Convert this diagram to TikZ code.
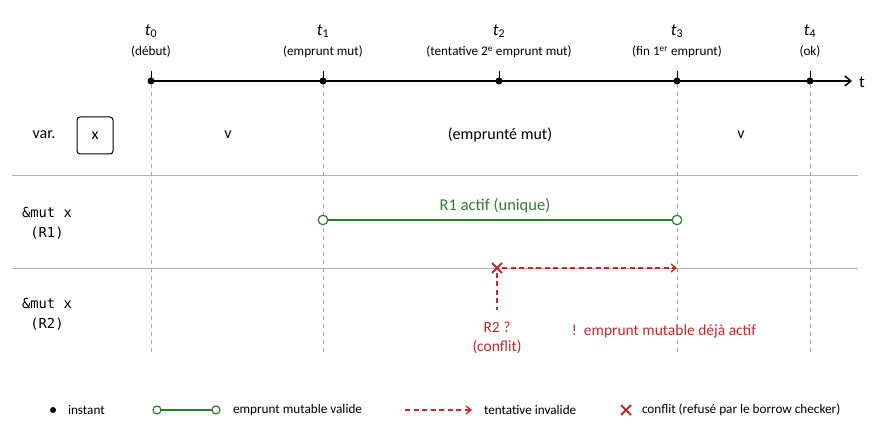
\documentclass[tikz,border=0pt]{standalone}
\usepackage{fontspec}
\setmainfont{Carlito}
\newfontfamily\codefont{DejaVu Sans Mono}
\usetikzlibrary{arrows.meta,shapes.misc}
\definecolor{okgreen}{HTML}{2E7D32}
\definecolor{badred}{HTML}{C62828}
\begin{document}
\begin{tikzpicture}[x=1pt,y=-1pt,
  every node/.style={inner sep=0pt,outer sep=0pt},
  instdot/.style={circle,fill=black,minimum size=7pt},
  opencirc/.style={circle,draw=okgreen,fill=white,line width=1.2pt,minimum size=9.5pt},
  guide/.style={gray!70,line width=0.6pt,dash pattern=on 4pt off 4pt},
  sepline/.style={gray!60,line width=0.7pt},
  tlab/.style={font=\fontsize{17}{17}\selectfont},
  captxt/.style={font=\fontsize{13.2}{13.2}\selectfont},
  rowlab/.style={font=\fontsize{16}{16}\selectfont},
  codelab/.style={font=\codefont\fontsize{13.8}{20}\selectfont,align=center},
  greenline/.style={okgreen,line width=1.4pt},
  redarrow/.style={badred,line width=1.3pt,dash pattern=on 5pt off 3.5pt,-{Straight Barb[length=5pt,width=8pt]}},
  redcross/.style={cross out,draw=badred,line width=1.8pt,minimum size=10pt},
  redtxt/.style={badred,font=\fontsize{15.5}{19}\selectfont}]
\useasboundingbox (0,0) rectangle (887,443);
% timeline
\coordinate (tstart) at (151,81);
\coordinate (tend) at (852,81);
\draw[line width=1.5pt,-{Straight Barb[length=6pt,width=10pt]}] (tstart) -- (tend);
\node[font=\fontsize{17}{17}\selectfont] (tlbl) at (862,82) {t};
\foreach \n/\x/\c in {0/151/(début),1/323/(emprunt mut),3/677/(fin 1\textsuperscript{er} emprunt),4/810/(ok)}{
  \node[instdot] (d\n) at (\x,81) {};
  \node[tlab] (tl\n) at (\x,31) {\textit{t}\textsubscript{\n}};
  \node[captxt] (tc\n) at (\x,52) {\c};
  \draw[line width=0.8pt] (\x,71) -- (d\n.center);
}
\node[instdot] (d2) at (499,81) {};
\node[tlab] (tl2) at (499,31) {\textit{t}\textsubscript{2}};
\node[captxt] (tc2) at (499,52) {(tentative 2\textsuperscript{e} emprunt mut)};
\draw[line width=0.8pt] (499,71) -- (d2.center);
% guides
\coordinate (g0) at (151,355);
\coordinate (g1) at (323,355);
\coordinate (g3) at (677,355);
\coordinate (g4) at (810,355);
\draw[guide] (d0.south) -- (g0);
\draw[guide] (d1.south) -- (g1);
\draw[guide] (d3.south) -- (g3);
\draw[guide] (d4.south) -- (g4);
% separators
\coordinate (s1a) at (12,175); \coordinate (s1b) at (858,175);
\coordinate (s2a) at (12,268); \coordinate (s2b) at (858,268);
\draw[sepline] (s1a) -- (s1b);
\draw[sepline] (s2a) -- (s2b);
% var row
\node[rowlab] (varl) at (44,135) {var.};
\node[draw,line width=1pt,rounded corners=3pt,minimum width=36pt,minimum height=37pt,rowlab] (xbox) at (95,135.5) {x};
\node[rowlab] (v1) at (228,135) {v};
\node[rowlab] (em) at (500,135) {(emprunté mut)};
\node[rowlab] (v2) at (741,135) {v};
% R1 row
\node[codelab] (r1l) at (47,223) {\&mut x\\(R1)};
\node[opencirc] (c1) at (323,220) {};
\node[opencirc] (c3) at (677,220) {};
\draw[greenline] (c1) -- (c3);
\node[okgreen,font=\fontsize{16.5}{16.5}\selectfont] (r1t) at (495,206) {R1 actif (unique)};
% R2 row
\node[codelab] (r2l) at (47,314) {\&mut x\\(R2)};
\node[redcross] (xx) at (497,268) {};
\coordinate (xt3) at (677,268);
\coordinate (xdown) at (497,310);
\draw[redarrow] (xx) -- (xt3);
\draw[badred,line width=1.3pt,dash pattern=on 5pt off 3.5pt] (xx) -- (xdown);
\node[redtxt,align=center] (r2q) at (497,338) {R2 ?\\(conflit)};
\node[redtxt] (warn) at (664,331) {!\ \ emprunt mutable déjà actif};
% legend
\node[instdot,minimum size=6pt] (ld) at (53,410) {};
\node[captxt,anchor=west] (lt1) at (68,410) {instant};
\node[opencirc,minimum size=8pt] (lg1) at (157,410) {};
\node[opencirc,minimum size=8pt] (lg2) at (216,410) {};
\draw[greenline,line width=1.2pt] (lg1) -- (lg2);
\node[captxt,anchor=west] (lt2) at (233,410) {emprunt mutable valide};
\coordinate (lr1) at (405,410); \coordinate (lr2) at (472,410);
\draw[redarrow] (lr1) -- (lr2);
\node[captxt,anchor=west] (lt3) at (484,410) {tentative invalide};
\node[redcross,minimum size=10pt] (lx) at (626,410) {};
\node[captxt,anchor=west] (lt4) at (642,410) {conflit (refusé par le borrow checker)};
\end{tikzpicture}
\end{document}
